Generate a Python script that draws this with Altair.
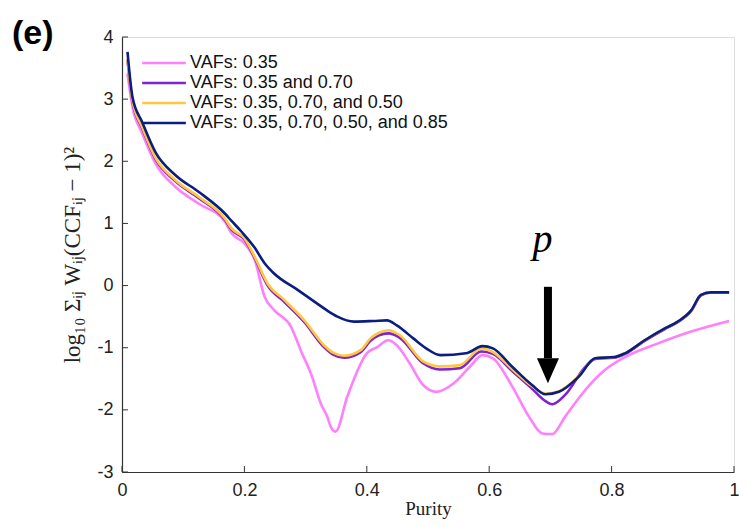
import altair as alt
import pandas as pd

# ---------------- data ----------------
series_names = [
    "VAFs: 0.35",
    "VAFs: 0.35 and 0.70",
    "VAFs: 0.35, 0.70, and 0.50",
    "VAFs: 0.35, 0.70, 0.50, and 0.85",
]
series_colors = ["#FF80FF", "#7F22D0", "#FFC83A", "#0A1E82"]

pink_x = [0.009, 0.017, 0.033, 0.055, 0.087, 0.125, 0.168, 0.179, 0.2, 0.217, 0.233, 0.249,
          0.276, 0.292, 0.31, 0.325, 0.335, 0.342, 0.349, 0.368, 0.40, 0.417, 0.435, 0.449,
          0.47, 0.492, 0.514, 0.541, 0.568, 0.589, 0.606, 0.638, 0.665, 0.687, 0.703, 0.724,
          0.757, 0.789, 0.822, 0.876, 0.93, 0.992]
pink_y = [3.41, 2.88, 2.45, 1.96, 1.59, 1.32, 1.03, 0.84, 0.68, 0.41, -0.18, -0.40,
          -0.66, -1.04, -1.45, -1.90, -2.10, -2.29, -2.35, -1.79, -1.09, -0.99, -0.88, -0.96,
          -1.25, -1.60, -1.71, -1.58, -1.31, -1.12, -1.17, -1.63, -2.11, -2.38, -2.39, -2.11,
          -1.68, -1.36, -1.15, -0.93, -0.74, -0.57]

purple_x = [0.009, 0.017, 0.033, 0.055, 0.087, 0.125, 0.168, 0.179, 0.2, 0.217, 0.238, 0.265,
            0.298, 0.33, 0.345, 0.363, 0.39, 0.406, 0.42, 0.435, 0.454, 0.492, 0.519, 0.552,
            0.587, 0.606, 0.638, 0.670, 0.692, 0.703, 0.724, 0.757, 0.773, 0.805, 0.822,
            0.854, 0.887, 0.908, 0.930, 0.946, 0.962, 0.992]
purple_y = [3.63, 2.96, 2.53, 2.03, 1.68, 1.41, 1.06, 0.90, 0.74, 0.44, 0.0, -0.26,
            -0.59, -0.99, -1.11, -1.16, -1.07, -0.89, -0.80, -0.77, -0.84, -1.25, -1.35, -1.33,
            -1.06, -1.10, -1.38, -1.66, -1.86, -1.91, -1.76, -1.31, -1.18, -1.16, -1.10,
            -0.89, -0.70, -0.59, -0.41, -0.16, -0.11, -0.11]

yellow_x = [0.009, 0.017, 0.033, 0.055, 0.087, 0.125, 0.168, 0.179, 0.2, 0.217, 0.238, 0.265,
            0.298, 0.33, 0.345, 0.363, 0.39, 0.406, 0.42, 0.435, 0.454, 0.492, 0.519, 0.552,
            0.587, 0.606, 0.638, 0.670, 0.692, 0.714, 0.746, 0.773, 0.805, 0.822, 0.854,
            0.887, 0.908, 0.930, 0.946, 0.962, 0.992]
yellow_y = [3.65, 2.98, 2.55, 2.05, 1.70, 1.43, 1.08, 0.92, 0.76, 0.46, 0.03, -0.23,
            -0.56, -0.96, -1.08, -1.13, -1.04, -0.85, -0.76, -0.72, -0.80, -1.22, -1.30, -1.28,
            -1.01, -1.07, -1.35, -1.62, -1.74, -1.70, -1.46, -1.17, -1.15, -1.09, -0.88,
            -0.69, -0.58, -0.40, -0.15, -0.11, -0.11]

navy_x = [0.009, 0.017, 0.033, 0.055, 0.087, 0.125, 0.168, 0.179, 0.195, 0.216, 0.233,
          0.249, 0.287, 0.319, 0.335, 0.352, 0.379, 0.411, 0.433, 0.449, 0.476, 0.497, 0.520,
          0.562, 0.589, 0.606, 0.638, 0.670, 0.692, 0.714, 0.746, 0.773, 0.805, 0.822, 0.854,
          0.887, 0.908, 0.930, 0.946, 0.962, 0.992]
navy_y = [3.76, 3.04, 2.63, 2.14, 1.78, 1.51, 1.16, 1.04, 0.87, 0.62, 0.36,
          0.19, -0.07, -0.29, -0.40, -0.50, -0.58, -0.57, -0.56, -0.64, -0.85, -1.01, -1.12,
          -1.09, -0.975, -1.01, -1.31, -1.60, -1.75, -1.71, -1.47, -1.17, -1.15, -1.09, -0.88,
          -0.69, -0.58, -0.40, -0.15, -0.11, -0.11]

x_ticks = [0, 0.2, 0.4, 0.6, 0.8, 1]
y_ticks = [-3, -2, -1, 0, 1, 2, 3, 4]

# annotation: purity arrow
arrow_x = [0.696]
arrow_top = [-0.02]
arrow_shaft_end = [-1.17]
arrow_head_y = [-1.37]
p_label_y = [0.54]
p_label_x = [0.687]

# ---------------- build ----------------
W, H = 612, 435
frames = []
for name, xs, ys in zip(series_names,
                        [pink_x, purple_x, yellow_x, navy_x],
                        [pink_y, purple_y, yellow_y, navy_y]):
    frames.append(pd.DataFrame({"series": name, "x": xs, "y": ys}))
df = pd.concat(frames, ignore_index=True)

xscale = alt.Scale(domain=[0, 1], nice=False, zero=False)
yscale = alt.Scale(domain=[-3, 4], nice=False, zero=False)

color = alt.Color(
    "series:N",
    scale=alt.Scale(domain=series_names, range=series_colors),
    legend=alt.Legend(
        title=None, orient="none", legendX=31, legendY=15,
        symbolType="M-2.3,0L2.3,0", symbolSize=361, symbolStrokeWidth=2.6,
        symbolFillColor="transparent",
        labelFont="Liberation Sans", labelFontSize=18, labelColor="#111111",
        labelOffset=15, rowPadding=0, padding=0, labelLimit=400,
    ),
)

axis_x = alt.Axis(
    values=x_ticks, title="Purity", titleFont="Liberation Serif", titleFontSize=19,
    titleFontWeight="normal", titleColor="#222222", titlePadding=0,
    labelFont="Liberation Sans", labelFontSize=18, labelColor="#222222",
    labelExpr="format(datum.value, '.1~f')", labelPadding=9, labelFlush=False,
    tickSize=0, grid=False, domainColor="#333333", domainWidth=1.2,
)
axis_y = alt.Axis(
    values=y_ticks,
    title="log₁₀ Σᵢⱼ Wᵢⱼ(CCFᵢⱼ − 1)²",
    titleFont="Liberation Serif", titleFontSize=23, titleFontWeight="normal",
    titleColor="#222222", titlePadding=12,
    labelFont="Liberation Sans", labelFontSize=18, labelColor="#222222",
    labelExpr="'' + datum.value", labelPadding=9,
    tickSize=0, grid=False, domainColor="#333333", domainWidth=1.2,
)


def X(field):
    return alt.X(field, scale=xscale, axis=axis_x)


def Y(field):
    return alt.Y(field, scale=yscale, axis=axis_y)


base = alt.Chart(df)
layers = []
for name in series_names:
    layers.append(
        base.transform_filter(alt.datum.series == name)
        .mark_line(strokeWidth=2.6, interpolate="monotone")
        .encode(x=X("x:Q"), y=Y("y:Q"), color=color)
    )

xt = alt.Chart(pd.DataFrame({"v": x_ticks})).mark_rule(color="#333333", strokeWidth=1).encode(
    x=X("v:Q"), y=alt.value(H), y2=alt.value(H - 6))
yt = alt.Chart(pd.DataFrame({"v": y_ticks})).mark_rule(color="#333333", strokeWidth=1).encode(
    y=Y("v:Q"), x=alt.value(0), x2=alt.value(6))

adf = pd.DataFrame({"x": arrow_x, "y": arrow_top, "y2": arrow_shaft_end, "yh": arrow_head_y})
shaft = alt.Chart(adf).mark_rule(color="black", strokeWidth=8, strokeCap="butt").encode(
    x=X("x:Q"), y=Y("y:Q"), y2="y2:Q")
head = alt.Chart(adf).mark_point(
    shape="M-1,-1.14L1,-1.14L0,1.14Z", size=484, filled=True, color="black", opacity=1,
    strokeWidth=0).encode(x=X("x:Q"), y=Y("yh:Q"))

pdf = pd.DataFrame({"x": p_label_x, "y": p_label_y, "t": ["p"]})
plabel = alt.Chart(pdf).mark_text(
    font="Liberation Serif", fontStyle="italic", fontSize=40, color="black",
    align="center", baseline="alphabetic").encode(
    x=X("x:Q"), y=Y("y:Q"), text="t:N")

panel = alt.Chart(pd.DataFrame({"t": ["(e)"]})).mark_text(
    font="Liberation Sans", fontWeight="bold", fontSize=34, color="black",
    align="left", baseline="alphabetic").encode(
    x=alt.value(-110), y=alt.value(7), text="t:N")

chart = alt.layer(*layers, xt, yt, shaft, head, plabel, panel).properties(
    width=W, height=H,
    autosize=alt.AutoSizeParams(type="none"),
    padding={"left": 114, "top": 29, "right": 5, "bottom": 50},
).configure_view(strokeWidth=0, stroke="transparent").configure(background="white")

chart.save("out.html", embed_options={"renderer": "svg", "actions": False})
